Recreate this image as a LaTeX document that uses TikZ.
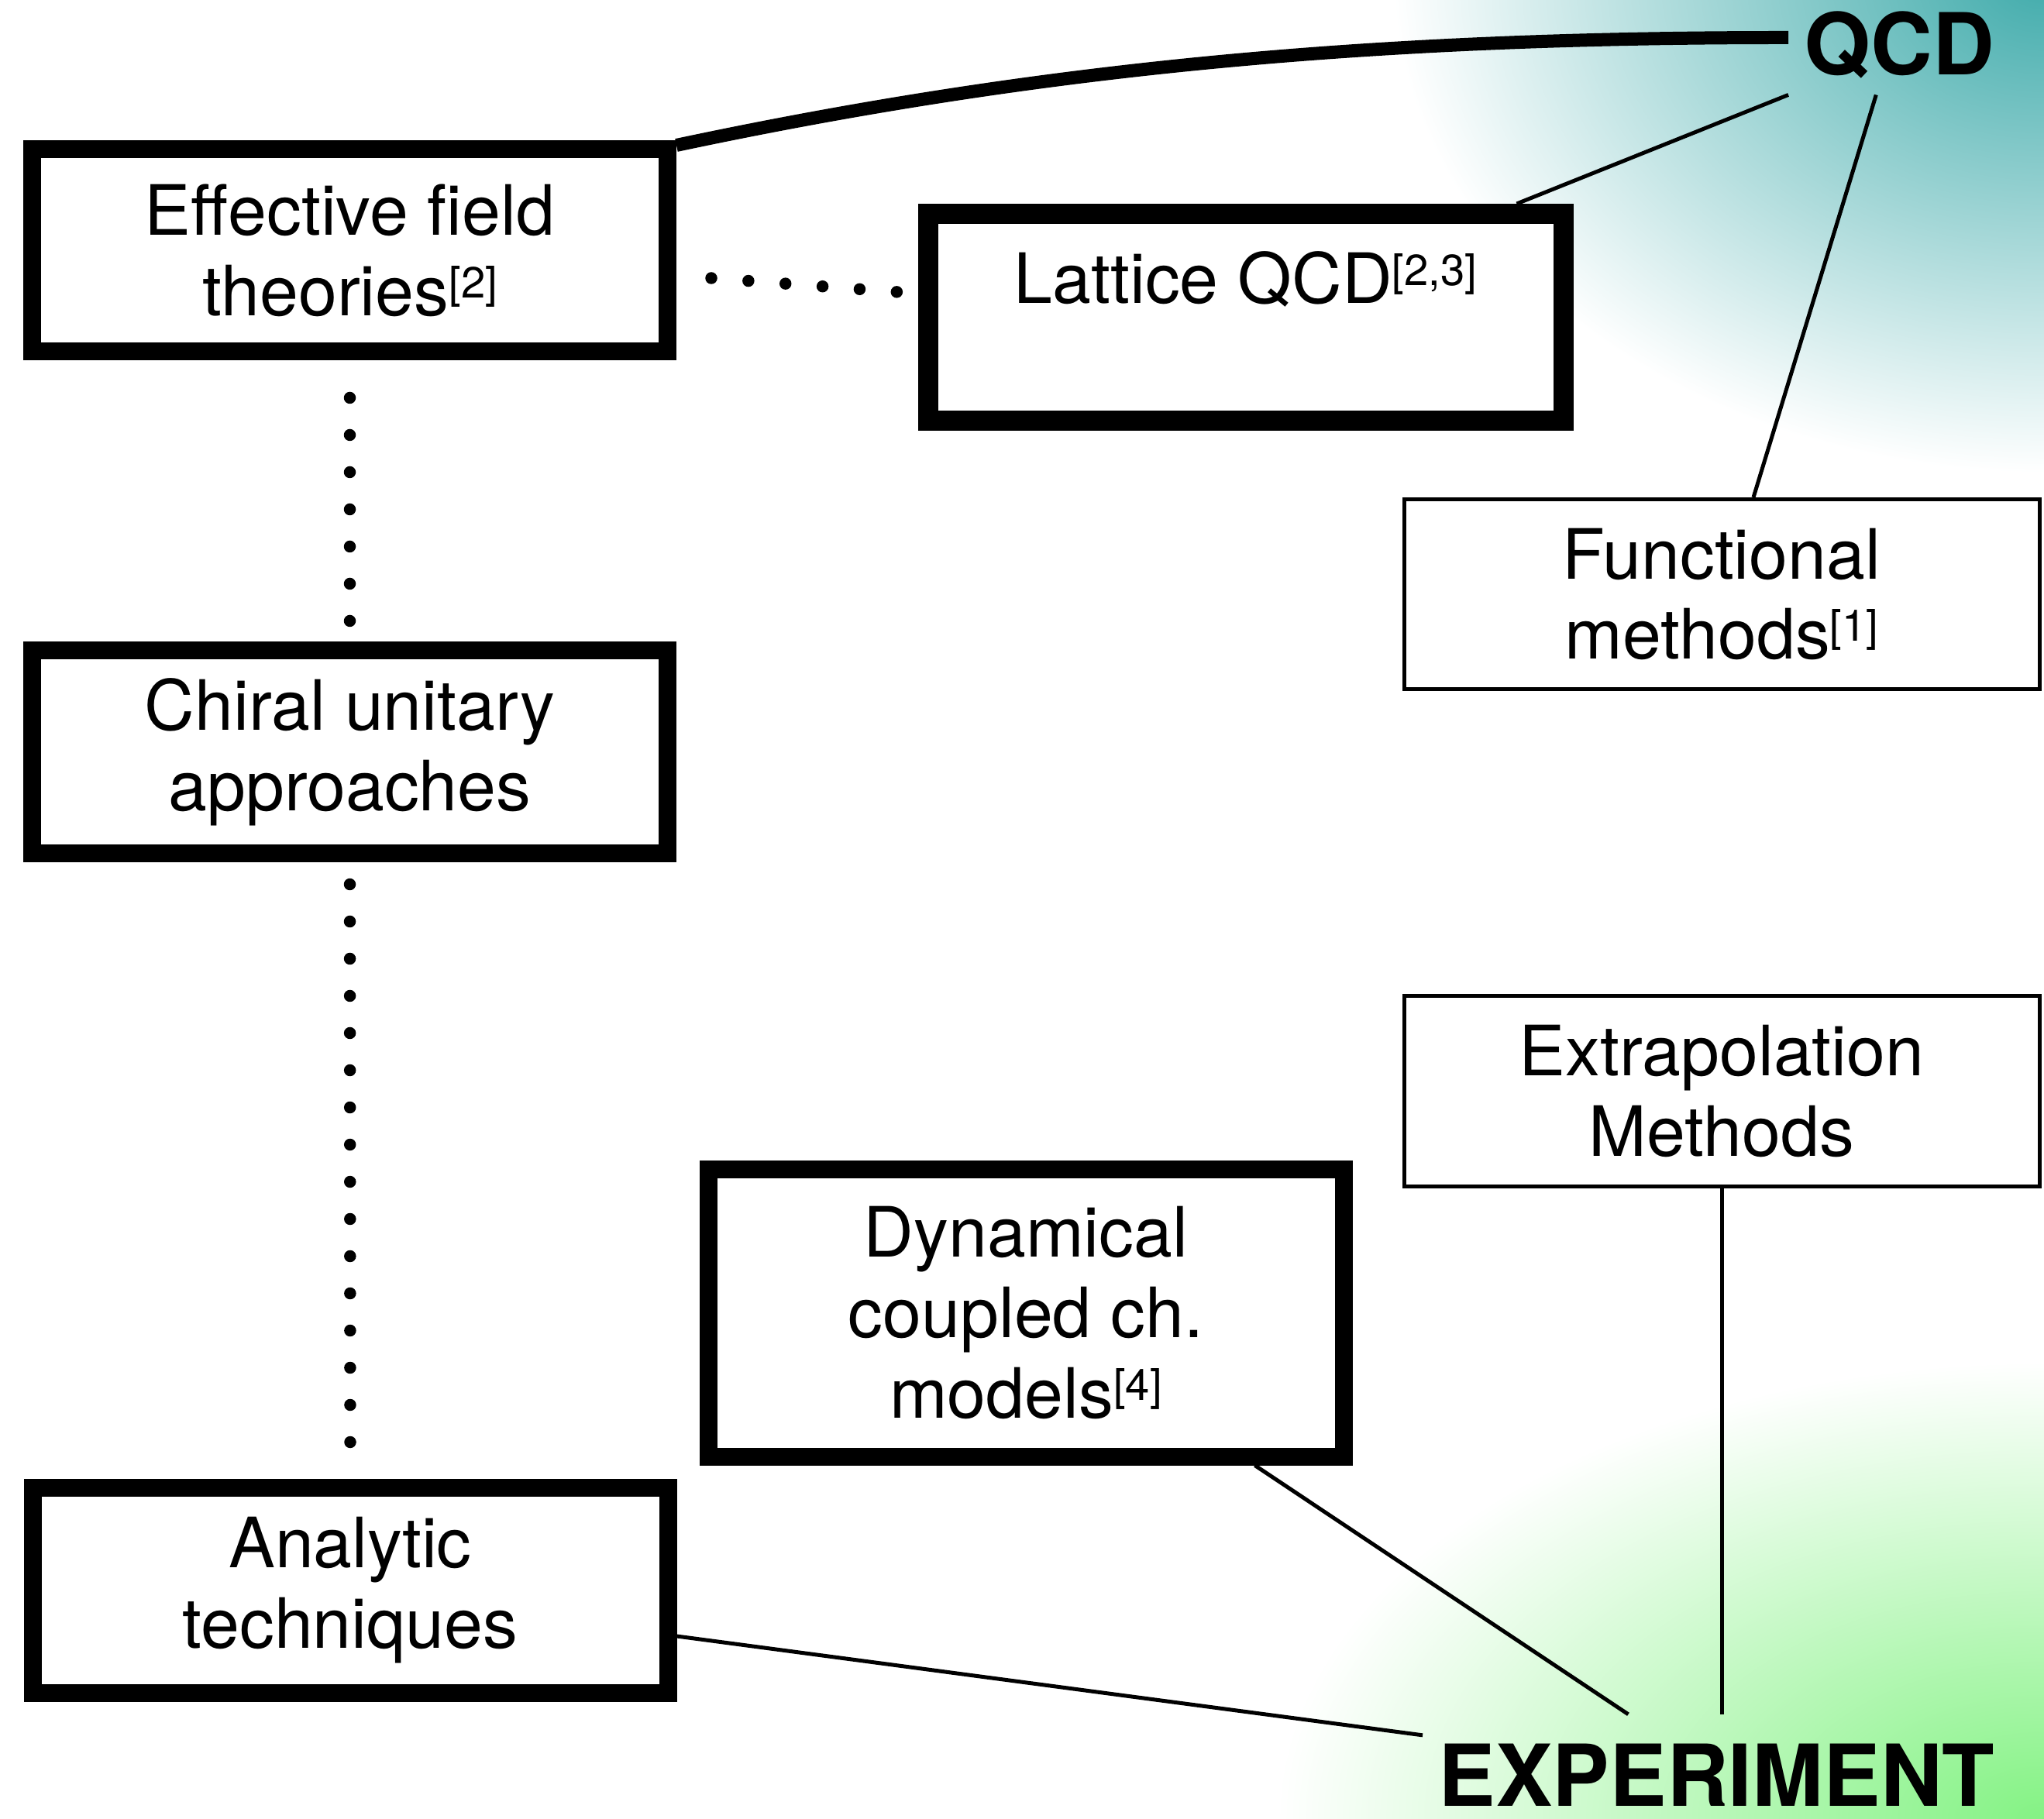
\documentclass[tikz,border=0pt]{standalone}
\usepackage{fontspec}
\setmainfont{TeX Gyre Heros}
\usepackage{tikz}

\definecolor{qcdteal}{RGB}{64,171,171}
\definecolor{expgreen}{RGB}{132,242,132}
\pgfdeclareradialshading{qcdglow}{\pgfpoint{0bp}{0bp}}{color(0bp)=(qcdteal); color(25bp)=(white); color(50bp)=(white)}
\pgfdeclareradialshading{expglow}{\pgfpoint{0bp}{0bp}}{color(0bp)=(expgreen); color(25bp)=(white); color(50bp)=(white)}
\newcommand{\refs}[1]{\raisebox{6.5pt}{\fontsize{16pt}{16pt}\selectfont[#1]}}

\begin{document}
\begin{tikzpicture}[
  thickbox/.style = {draw, fill = white, inner sep = 0pt, minimum width = 8.2cm, align = center, line width = 0.23cm, font = \fontsize{25.5pt}{29.5pt}\selectfont},
  thinbox/.style = {thickbox, line width = 0.05cm},
  bigword/.style = {inner sep = 0.2cm, font = \fontsize{31.4pt}{31.4pt}\selectfont\bfseries},
  joinline/.style = {line width = 0.05cm},
  dotrow/.style = {line width = 0.155cm, line cap = round, dash pattern = on 0cm off 0.48cm}]
\useasboundingbox (0,0) rectangle (26.38,-23.48);
% colour glow behind the two ends
\shade[shading = qcdglow] (26.38,0.3) ellipse (8.4 and 6.4);
\shade[shading = expglow] (26.38,-23.48) ellipse (9.9 and 5.9);

\node[thickbox, minimum height = 2.61cm] (eft) at (4.515,-3.235) {Effective field\\theories\refs{2}};
\node[thickbox, minimum height = 2.62cm] (chi) at (4.515,-9.71) {Chiral unitary\\approaches};
\node[thickbox, minimum height = 2.65cm] (ana) at (4.52,-20.525) {Analytic\\techniques};
\node[thickbox, minimum height = 3.71cm] (dyn) at (13.24,-16.945) {Dynamical\\coupled ch.\\models\refs{4}};
\node[thickbox, minimum height = 2.67cm, line width = 0.26cm] (lat) at (16.075,-4.095) {Lattice QCD\refs{2,3}\\\mbox{}};
\node[thinbox, minimum height = 2.45cm] (fun) at (22.22,-7.67) {Functional\\methods\refs{1}};
\node[thinbox, minimum height = 2.46cm] (ext) at (22.22,-14.085) {Extrapolation\\Methods};
\node[bigword, anchor = base west] (qcd) at (23.08,-0.97) {QCD};
\node[bigword, anchor = base west, inner ysep = 0.05cm] (exp) at (18.36,-23.31) {EXPERIMENT};

\draw[line width = 0.17cm] ([yshift = -0.06cm]eft.north east) to[out = 12, in = 180, looseness = 0.9] ([yshift = 0.1cm]qcd.west);
\draw[joinline] (qcd.south west) -- ([xshift = -0.73cm]lat.north east);
\draw[joinline] ([xshift = -0.3cm]qcd.south) -- ([xshift = 0.41cm]fun.north);
\draw[joinline] ([yshift = -0.595cm]ana.east) -- ([yshift = 0.05cm]exp.north west);
\draw[joinline] ([xshift = -1.26cm]dyn.south east) -- ([xshift = -1.14cm, yshift = 0.32cm]exp.north);
\draw[joinline, shorten >= 0.32cm] (ext.south) -- (ext.south |- exp.north);

\draw[dotrow] ([shift = {(0.45,-0.355)}]eft.east) -- ([shift = {(-0.25,0.325)}]lat.west);
\draw[dotrow] ([yshift = -0.48cm]eft.south) -- ([yshift = 0.26cm]chi.north);
\draw[dotrow] ([yshift = -0.28cm]chi.south) -- ([yshift = 0.45cm]ana.north);
\end{tikzpicture}
\end{document}
